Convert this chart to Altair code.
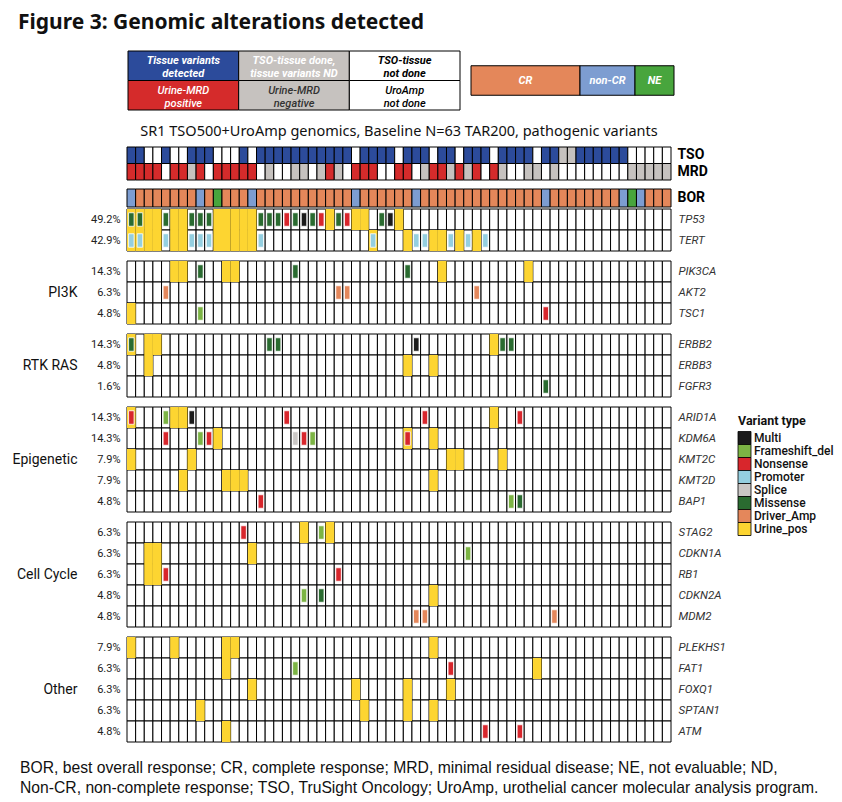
import altair as alt
import pandas as pd

FONT = "Roboto"
WIDE_FONT = "Noto Sans"
NOTE_FONT = "Liberation Sans"

N_PATIENTS = 63
PATIENTS = list(range(N_PATIENTS))

TITLE = "Figure 3: Genomic alterations detected"
SUBTITLE = "SR1 TSO500+UroAmp genomics, Baseline N=63 TAR200, pathogenic variants"
FOOTNOTE = [
    "BOR, best overall response; CR, complete response; MRD, minimal residual disease; NE, not evaluable; ND,",
    "Non-CR, non-complete response; TSO, TruSight Oncology; UroAmp, urothelial cancer molecular analysis program.",
]

# Tissue TSO500 status per patient: D = variants detected, N = done / none detected, X = not done
TSO = list("DDXXDXXDDD" "XXXDXDDDDD" "DDDDDDXDDD" "DXDDDXDDXD" "DDXDDDDXDD" "NNDDDDDDXX" "XXX")
# Urine MRD (UroAmp) per patient: P = positive, N = negative, X = not done
MRD = list("PPPPXPPNPX" "PPPPPXNXXN" "NXNPNXPPPX" "XPPXNPPNPN" "PXPNXXNNXN" "XXXXXXXXNN" "NNN")
# Best overall response per patient
BOR = (["non-CR"] + ["CR"] * 7 + ["non-CR", "CR", "NE"] + ["CR"] * 3 + ["non-CR"]
       + ["CR"] * 11 + ["non-CR"] + ["CR"] * 6 + ["non-CR"] + ["CR"] * 14 + ["non-CR"]
       + ["CR"] * 8 + ["non-CR", "NE", "non-CR"] + ["CR"] * 3)

CORE_GENES = ["TP53", "TERT"]
CORE_PCT = ["49.2%", "42.9%"]
PI3K_GENES = ["PIK3CA", "AKT2", "TSC1"]
PI3K_PCT = ["14.3%", "6.3%", "4.8%"]
RTK_GENES = ["ERBB2", "ERBB3", "FGFR3"]
RTK_PCT = ["14.3%", "4.8%", "1.6%"]
EPI_GENES = ["ARID1A", "KDM6A", "KMT2C", "KMT2D", "BAP1"]
EPI_PCT = ["14.3%", "14.3%", "7.9%", "7.9%", "4.8%"]
CC_GENES = ["STAG2", "CDKN1A", "RB1", "CDKN2A", "MDM2"]
CC_PCT = ["6.3%", "6.3%", "6.3%", "4.8%", "4.8%"]
OTHER_GENES = ["PLEKHS1", "FAT1", "FOXQ1", "SPTAN1", "ATM"]
OTHER_PCT = ["7.9%", "6.3%", "6.3%", "6.3%", "4.8%"]

# Patients with the variant found in urine
URINE_POS = {
    "TP53": [0, 1, 2, 3, 5, 6, 10, 11, 12, 13, 14, 23, 26, 27, 31],
    "TERT": [0, 1, 2, 3, 5, 6, 10, 11, 12, 13, 14, 28, 32, 35, 36, 38, 40],
    "PIK3CA": [5, 6, 11, 12, 36, 46],
    "AKT2": [],
    "TSC1": [0],
    "ERBB2": [0, 2, 3, 42],
    "ERBB3": [2, 32, 35],
    "FGFR3": [],
    "ARID1A": [0, 5, 6, 42],
    "KDM6A": [10, 32, 35],
    "KMT2C": [0, 7, 37, 38, 43],
    "KMT2D": [6, 11, 12, 13, 35],
    "BAP1": [],
    "STAG2": [20, 23],
    "CDKN1A": [2, 3, 14],
    "RB1": [2, 3],
    "CDKN2A": [35],
    "MDM2": [],
    "PLEKHS1": [0, 5, 11, 12, 35],
    "FAT1": [11, 47],
    "FOXQ1": [14, 26, 32, 37],
    "SPTAN1": [8, 27, 32, 35],
    "ATM": [11],
}

# Tissue variants: (patient, variant type)
TISSUE = {
    "TP53": [(0, "Missense"), (1, "Missense"), (4, "Missense"), (7, "Missense"), (8, "Missense"),
             (9, "Missense"), (15, "Missense"), (16, "Missense"), (17, "Missense"), (18, "Nonsense"),
             (19, "Missense"), (20, "Multi"), (21, "Missense"), (22, "Nonsense"), (24, "Missense"),
             (25, "Nonsense"), (29, "Missense"), (30, "Multi")],
    "TERT": [(0, "Promoter"), (1, "Promoter"), (4, "Promoter"), (7, "Promoter"), (8, "Promoter"),
             (9, "Promoter"), (15, "Promoter"), (28, "Promoter"), (33, "Promoter"), (34, "Promoter"),
             (37, "Promoter"), (39, "Promoter"), (41, "Promoter")],
    "PIK3CA": [(8, "Missense"), (19, "Missense"), (32, "Missense")],
    "AKT2": [(4, "Driver_Amp"), (24, "Driver_Amp"), (25, "Driver_Amp"), (40, "Driver_Amp")],
    "TSC1": [(8, "Frameshift_del"), (48, "Nonsense")],
    "ERBB2": [(0, "Missense"), (16, "Missense"), (17, "Missense"), (33, "Multi"),
              (43, "Missense"), (44, "Missense")],
    "ERBB3": [],
    "FGFR3": [(48, "Missense")],
    "ARID1A": [(0, "Nonsense"), (4, "Frameshift_del"), (7, "Multi"), (18, "Nonsense"),
               (34, "Nonsense"), (45, "Nonsense")],
    "KDM6A": [(4, "Nonsense"), (8, "Frameshift_del"), (9, "Nonsense"), (19, "Splice"),
              (20, "Nonsense"), (21, "Frameshift_del"), (32, "Nonsense")],
    "KMT2C": [],
    "KMT2D": [],
    "BAP1": [(15, "Nonsense"), (44, "Frameshift_del"), (45, "Missense")],
    "STAG2": [(13, "Nonsense"), (22, "Frameshift_del")],
    "CDKN1A": [(39, "Frameshift_del")],
    "RB1": [(4, "Nonsense"), (24, "Nonsense")],
    "CDKN2A": [(20, "Frameshift_del"), (22, "Missense")],
    "MDM2": [(33, "Driver_Amp"), (34, "Driver_Amp"), (49, "Driver_Amp")],
    "PLEKHS1": [],
    "FAT1": [(19, "Frameshift_del"), (37, "Nonsense")],
    "FOXQ1": [],
    "SPTAN1": [],
    "ATM": [(41, "Nonsense"), (45, "Nonsense")],
}

VARIANT_TYPES = ["Multi", "Frameshift_del", "Nonsense", "Promoter", "Splice",
                 "Missense", "Driver_Amp", "Urine_pos"]
VARIANT_COLORS = ["#1b1b1b", "#7cb444", "#d8262c", "#94cfe0", "#cac7c5",
                  "#2a6b30", "#e4875b", "#fdd531"]

TSO_FILL = {"D": "#2c4b9b", "N": "#c6c2bf", "X": "#ffffff"}
MRD_FILL = {"P": "#d52b2b", "N": "#c6c2bf", "X": "#ffffff"}
BOR_FILL = {"CR": "#e4875a", "non-CR": "#7d9dd1", "NE": "#48a53d"}

KEY_TEXT = [["Tissue variants\ndetected", "TSO-tissue done,\ntissue variants ND", "TSO-tissue\nnot done"],
            ["Urine-MRD\npositive", "Urine-MRD\nnegative", "UroAmp\nnot done"]]
KEY_FILL = [["#2c4b9b", "#c6c2bf", "#ffffff"], ["#d52b2b", "#c6c2bf", "#ffffff"]]
KEY_INK = [["#ffffff", "#ffffff", "#000000"], ["#ffffff", "#333333", "#000000"]]
BOR_KEYS = ["CR", "non-CR", "NE"]

# layout constants (pixels)
GRID_W = 544
ROW_H = 21
TABLE_SPAN = (1, 333)
BOR_KEY_START = 344
BOR_KEY_WIDTHS = [109, 55, 39]
LEGEND_X = 611           # left edge of the variant key, from the grid's left edge
LEGEND_ROWS = (31, 122)  # first / last key row, from the epigenetic block's top


def band(domain=None, outer=0.0, rng=None):
    kw = dict(paddingInner=0, paddingOuter=outer)
    if domain is not None:
        kw["domain"] = domain
    if rng is not None:
        kw["range"] = list(rng)
    return alt.Scale(**kw)


X_ENC = alt.X("patient:O", scale=band(PATIENTS), axis=None)
VAR_SCALE = alt.Scale(domain=VARIANT_TYPES, range=VARIANT_COLORS)
VAR_COLOR = alt.Color("type:N", scale=VAR_SCALE, legend=None)


def spacer(h):
    return alt.Chart(pd.DataFrame({"v": [0]})).mark_point(opacity=0).encode(
        x=alt.value(0), y=alt.value(0)).properties(width=GRID_W, height=h)


def header_panel():
    rows = []
    for r in range(2):
        for c in range(3):
            rows.append({"r": r, "c": c, "label": KEY_TEXT[r][c],
                         "fill": KEY_FILL[r][c], "ink": KEY_INK[r][c]})
    df = pd.DataFrame(rows)
    x = alt.X("c:O", scale=band(rng=TABLE_SPAN), axis=None)
    y = alt.Y("r:O", scale=band(), axis=None)
    cells = alt.Chart(df).mark_rect(stroke="black", strokeWidth=1).encode(
        x=x, y=y, fill=alt.Fill("fill:N", scale=None))
    top = alt.Chart(df).transform_filter("datum.r == 0").mark_text(
        lineBreak="\n", fontStyle="italic", fontWeight="bold", fontSize=11, lineHeight=12.5, dy=-4.5
    ).encode(x=x, y=y, text="label:N", color=alt.Color("ink:N", scale=None))
    bottom = alt.Chart(df).transform_filter("datum.r == 1").mark_text(
        lineBreak="\n", fontStyle="italic", fontWeight=500, fontSize=11, lineHeight=13, dy=-4.5
    ).encode(x=x, y=y, text="label:N", color=alt.Color("ink:N", scale=None))
    table = alt.layer(cells, top, bottom)

    # response key: three boxes laid side by side
    starts, x0 = [], BOR_KEY_START
    for w in BOR_KEY_WIDTHS:
        starts.append(x0)
        x0 += w
    kdf = pd.DataFrame({
        "k": BOR_KEYS,
        "fill": [BOR_FILL[k] for k in BOR_KEYS],
        "x0": starts,
        "x1": [s + w for s, w in zip(starts, BOR_KEY_WIDTHS)],
    })
    kdf["xm"] = (kdf["x0"] + kdf["x1"]) / 2
    kdf["row"] = "BOR"
    kx = alt.Scale(domain=[0, GRID_W], range=[0, GRID_W])
    ky = alt.Y("row:N", scale=band(outer=0.5), axis=None)
    boxes = alt.Chart(kdf).mark_rect(stroke="black", strokeWidth=1).encode(
        x=alt.X("x0:Q", scale=kx, axis=None), x2="x1:Q", y=ky,
        fill=alt.Fill("fill:N", scale=None))
    labels = alt.Chart(kdf).mark_text(color="white", fontStyle="italic", fontWeight="bold",
                                      fontSize=11).encode(
        x=alt.X("xm:Q", scale=kx, axis=None), y=ky, text="k:N")
    keys = alt.layer(boxes, labels)
    return alt.layer(table, keys).resolve_scale(x="independent", y="independent").properties(
        width=GRID_W, height=59)


def track_axis():
    return alt.Axis(orient="right", title=None, ticks=False, domain=False, labelFont=FONT,
                    labelFontSize=14, labelFontWeight="bold", labelColor="#000", labelPadding=6)


def status_panel():
    rows = [{"track": "TSO", "patient": p, "fill": TSO_FILL[c]} for p, c in enumerate(TSO)]
    rows += [{"track": "MRD", "patient": p, "fill": MRD_FILL[c]} for p, c in enumerate(MRD)]
    df = pd.DataFrame(rows)
    return alt.Chart(df).mark_rect(stroke="black", strokeWidth=1).encode(
        x=X_ENC,
        y=alt.Y("track:N", scale=band(["TSO", "MRD"]), axis=track_axis()),
        fill=alt.Fill("fill:N", scale=None),
    ).properties(width=GRID_W, height=33,
                 title=alt.TitleParams(SUBTITLE, font=WIDE_FONT, fontSize=14.5, fontWeight="normal",
                                       color="#111", anchor="middle", offset=7))


def bor_panel():
    df = pd.DataFrame([{"track": "BOR", "patient": p, "fill": BOR_FILL[b]} for p, b in enumerate(BOR)])
    return alt.Chart(df).mark_rect(stroke="black", strokeWidth=1).encode(
        x=X_ENC,
        y=alt.Y("track:N", scale=band(["BOR"]), axis=track_axis()),
        fill=alt.Fill("fill:N", scale=None),
    ).properties(width=GRID_W, height=18)


def variant_key():
    """Key of the variant colours, drawn to the right of the gene names."""
    df = pd.DataFrame({"type": VARIANT_TYPES})
    ky = alt.Y("type:N", scale=alt.Scale(domain=VARIANT_TYPES, range=list(LEGEND_ROWS), padding=0),
               axis=None)
    swatches = alt.Chart(df).mark_square(size=169, opacity=1, filled=True, stroke="black",
                                         strokeWidth=0.8).encode(
        x=alt.value(LEGEND_X + 6.5), y=ky, color=VAR_COLOR)
    names = alt.Chart(df).mark_text(align="left", baseline="middle", font=FONT, fontSize=12,
                                    fontWeight=500, color="#111").encode(
        x=alt.value(LEGEND_X + 16), y=ky, text="type:N")
    title = alt.Chart(pd.DataFrame({"t": ["Variant type"]})).mark_text(
        align="left", baseline="middle", font=FONT, fontSize=12.5, fontWeight="bold", color="#111"
    ).encode(x=alt.value(LEGEND_X), y=alt.value(LEGEND_ROWS[0] - 17), text="t:N")
    return [swatches, names, title]


def gene_panel(genes, pcts, group=None, extra=()):
    h = ROW_H * len(genes)
    grid = pd.DataFrame([{"gene": g, "patient": p} for g in genes for p in PATIENTS])
    urine = pd.DataFrame([{"gene": g, "patient": p, "type": "Urine_pos"}
                          for g in genes for p in URINE_POS[g]])
    tissue = pd.DataFrame([{"gene": g, "patient": p, "type": t}
                           for g in genes for p, t in TISSUE[g]])
    expr = " : ".join(f"datum.value === '{g}' ? '{p}'" for g, p in zip(genes, pcts)) + " : ''"
    left_kw = dict(orient="left", ticks=False, domain=False, labelExpr=expr, labelFont=FONT,
                   labelFontSize=11, labelColor="#222", labelPadding=7)
    if group:
        left_kw.update(title=group, titleAngle=0, titleAlign="right", titleBaseline="middle",
                       titleX=-50, titleY=h / 2, titleFont=FONT, titleFontSize=14,
                       titleFontWeight="normal", titleColor="#111")
    else:
        left_kw["title"] = None
    right_axis = alt.Axis(orient="right", title=None, ticks=False, domain=False, labelFont=FONT,
                          labelFontSize=11.5, labelFontStyle="italic", labelColor="#333",
                          labelPadding=7)

    def gy(axis=None):
        return alt.Y("gene:N", scale=band(genes), axis=axis)

    cells = alt.Chart(grid).mark_rect(fill="white", stroke="black", strokeWidth=1).encode(
        x=X_ENC, y=gy(alt.Axis(**left_kw)))
    names = alt.Chart(grid).mark_rect(opacity=0).encode(x=X_ENC, y=gy(right_axis))
    layers = [cells]
    if len(urine):
        layers.append(alt.Chart(urine).mark_rect(opacity=1).encode(
            x=X_ENC, y=gy(), color=VAR_COLOR))
    if len(tissue):
        layers.append(alt.Chart(tissue).mark_tick(
            orient="vertical", thickness=5.5, size=13.5, opacity=1,
            stroke="white", strokeWidth=0.8
        ).encode(x=X_ENC, y=gy(), color=VAR_COLOR))
    layers.append(names)
    layers.extend(extra)
    return alt.layer(*layers).resolve_scale(y="independent").properties(width=GRID_W, height=h)


def footnote_panel():
    df = pd.DataFrame({"line": [0, 1], "label": FOOTNOTE})
    return alt.Chart(df).mark_text(align="left", baseline="middle", font=NOTE_FONT, fontSize=15.7,
                                   color="#111", dy=6).encode(
        x=alt.value(-107),
        y=alt.Y("line:O", scale=alt.Scale(padding=0.5), axis=None),
        text="label:N",
    ).properties(width=GRID_W, height=40)


chart = alt.vconcat(
    header_panel(),
    spacer(37),
    status_panel(),
    spacer(9),
    bor_panel(),
    spacer(2),
    gene_panel(CORE_GENES, CORE_PCT),
    spacer(10),
    gene_panel(PI3K_GENES, PI3K_PCT, "PI3K"),
    spacer(10),
    gene_panel(RTK_GENES, RTK_PCT, "RTK RAS"),
    spacer(10),
    gene_panel(EPI_GENES, EPI_PCT, "Epigenetic", extra=variant_key()),
    spacer(10),
    gene_panel(CC_GENES, CC_PCT, "Cell Cycle"),
    spacer(10),
    gene_panel(OTHER_GENES, OTHER_PCT, "Other"),
    spacer(10),
    footnote_panel(),
    spacing=0, bounds="flush",
).properties(
    title=alt.TitleParams(TITLE, anchor="start", frame="bounds", font=WIDE_FONT, fontSize=21,
                          fontWeight="bold", color="#111", offset=18, dx=6),
    padding={"left": 12, "top": 11, "right": 5, "bottom": 5},
).configure(font=FONT).configure_view(stroke=None)

chart.save("out.html", embed_options={"renderer": "svg", "actions": False})
